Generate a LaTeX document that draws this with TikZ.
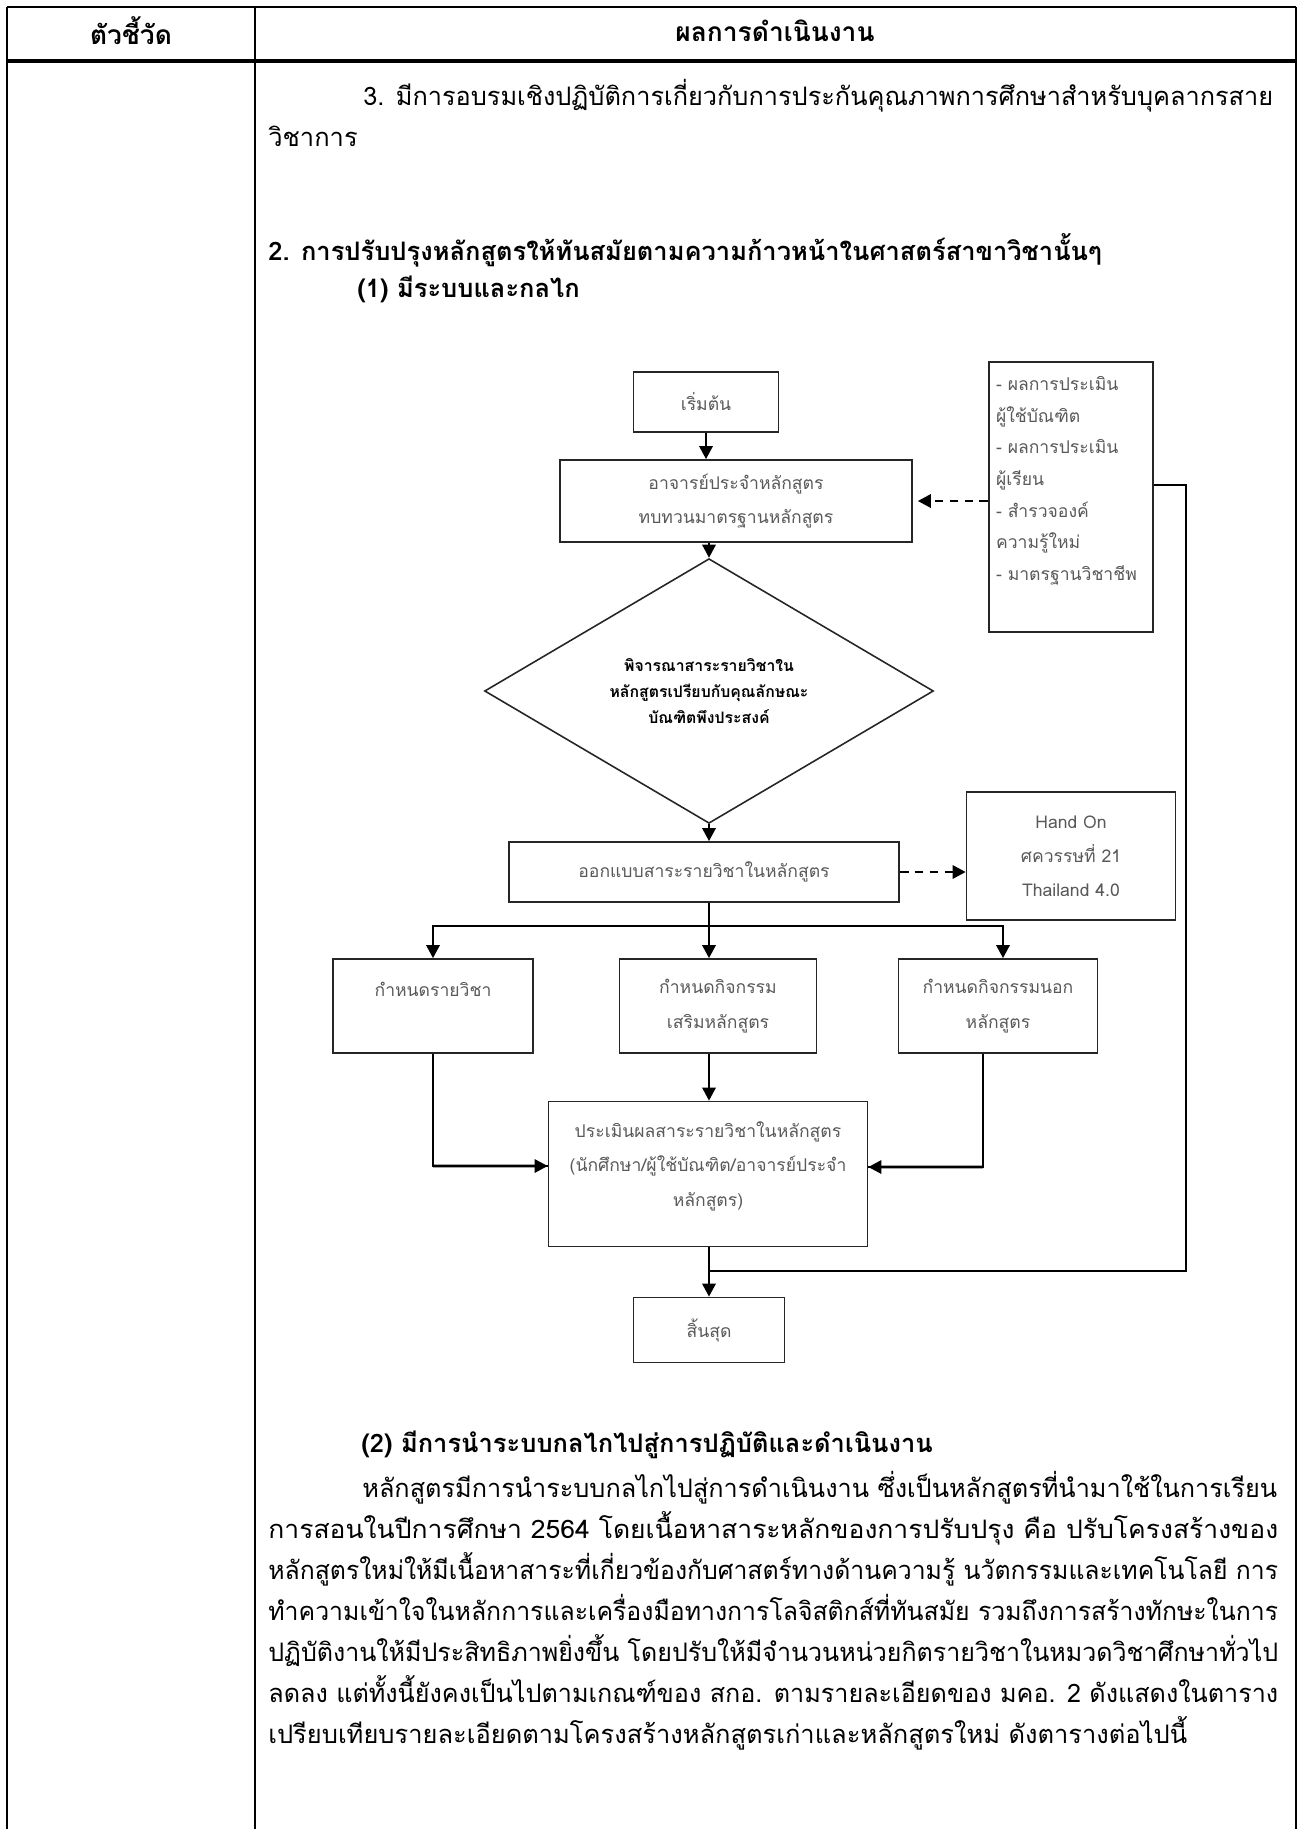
\documentclass[tikz,border=0pt]{standalone}
\usepackage{fontspec}
\setmainfont{Loma}[Script=Thai]
\usepackage{graphicx}
\usepackage{tikz}
\usetikzlibrary{arrows.meta, positioning, shapes.geometric}
\newcommand{\fillline}[2]{\resizebox{#1}{\height}{#2}}
\tikzset{
    tablerule/.style={
        draw=black,
        line width=1.3pt
    },
    headrule/.style={
        draw=black,
        line width=2pt
    },
    bodytext/.style={
        anchor=base west,
        inner sep=0pt,
        text=black,
        font=\fontsize{14.5}{18}\selectfont
    },
    headtext/.style={
        bodytext,
        font=\fontsize{14.5}{18}\selectfont\bfseries
    },
    titletext/.style={
        anchor=center,
        inner sep=0pt,
        font=\fontsize{15}{18}\selectfont\bfseries
    },
    flowbox/.style={
        rectangle,
        draw=black!85,
        line width=0.9pt,
        fill=white,
        align=center,
        inner sep=0pt,
        text=black!65,
        font=\fontsize{10}{19.5}\selectfont
    },
    notebox/.style={
        flowbox,
        align=left,
        font=\fontsize{10}{18}\selectfont
    },
    decision/.style={
        diamond,
        draw=black!85,
        line width=0.9pt,
        align=center,
        inner sep=0pt,
        text=black,
        font=\fontsize{9}{15}\selectfont\bfseries
    },
    wire/.style={
        draw=black,
        line width=1.6pt,
        -{Triangle[length=7.5pt,width=7.5pt]}
    },
    link/.style={
        draw=black,
        line width=1.2pt
    },
    dashwire/.style={
        draw=black,
        line width=1.6pt,
        dash pattern=on 5pt off 3.5pt,
        -{Triangle[length=7.5pt,width=7.5pt]}
    }
}

\begin{document}
\begin{tikzpicture}[x=0.02cm, y=-0.02cm]
\useasboundingbox (0,0) rectangle (1298,1829);

% Table frame
\coordinate (tl) at (7,7);
\coordinate (tr) at (1296,7);
\coordinate (bl) at (7,1829);
\coordinate (br) at (1296,1829);
\coordinate (colsep) at (255,7);
\draw[tablerule] (tl) -- (tr);
\draw[headrule] (7,61) -- (1296,61);
\draw[tablerule] (tl) -- (bl);
\draw[tablerule] (colsep) -- (colsep |- bl);
\draw[tablerule] (tr) -- (br);

\node[titletext] (colA) at (131,31) {ตัวชี้วัด};
\node[titletext] (colB) at (775,31) {ผลการดำเนินงาน};

% Text above the chart
\node[bodytext] (p3a) at (363,105) {\fillline{18.2cm}{3. มีการอบรมเชิงปฏิบัติการเกี่ยวกับการประกันคุณภาพการศึกษาสำหรับบุคลากรสาย}};
\node[bodytext] (p3b) at (268,146) {วิชาการ};
\node[headtext] (sec2) at (268,260) {2. การปรับปรุงหลักสูตรให้ทันสมัยตามความก้าวหน้าในศาสตร์สาขาวิชานั้นๆ};
\node[headtext] (sub1) at (357,297) {(1) มีระบบและกลไก};

% Flowchart
\node[flowbox, minimum width=2.9cm, minimum height=1.2cm] (start) at (706,402) {เริ่มต้น};
\node[flowbox, minimum width=7.04cm, minimum height=1.64cm] (review) at (736,501) {อาจารย์ประจำหลักสูตร\\ทบทวนมาตรฐานหลักสูตร};
\node[notebox, minimum width=3.28cm, minimum height=5.4cm] (inputs) at (1071,497) {\parbox[c][4.82cm][t]{3.0cm}{\raggedright - ผลการประเมิน\\ผู้ใช้บัณฑิต\\- ผลการประเมิน\\ผู้เรียน\\- สำรวจองค์\\ความรู้ใหม่\\- มาตรฐานวิชาชีพ}};
\node[decision, minimum width=8.98cm, minimum height=3.98cm] (decide) at (709,691) {พิจารณาสาระรายวิชาใน\\หลักสูตรเปรียบกับคุณลักษณะ\\บัณฑิตพึงประสงค์};
\node[flowbox, minimum width=7.8cm, minimum height=1.2cm] (design) at (704,872) {ออกแบบสาระรายวิชาในหลักสูตร};
\node[flowbox, minimum width=4.18cm, minimum height=2.56cm] (trends) at (1071,856) {Hand On\\ศควรรษที่ 21\\Thailand 4.0};

\node[flowbox, minimum width=4.0cm, minimum height=1.88cm] (subj) at (433,1006) {กำหนดรายวิชา\\~};
\node[flowbox, minimum width=3.94cm, minimum height=1.88cm] (extra) at (718,1006) {กำหนดกิจกรรม\\เสริมหลักสูตร};
\node[flowbox, minimum width=3.98cm, minimum height=1.88cm] (outer) at (998,1006) {กำหนดกิจกรรมนอก\\หลักสูตร};

\node[flowbox, minimum width=6.38cm, minimum height=2.9cm] (evalbox) at (708,1174) {ประเมินผลสาระรายวิชาในหลักสูตร\\(นักศึกษา/ผู้ใช้บัณฑิต/อาจารย์ประจำ\\หลักสูตร)\\[-8pt]~};
\node[flowbox, minimum width=3.02cm, minimum height=1.3cm] (stop) at (709,1330) {สิ้นสุด};

\coordinate (fork) at (709,926);
\coordinate (loop) at (1186,1271);

\draw[wire] (start) -- (review.north -| start);
\draw[wire] (decide.north |- review.south) -- (decide.north);
\draw[wire] (decide.south) -- (decide.south |- design.north);
\draw[dashwire, shorten >=0.1cm] (inputs.west |- review.east) -- (review.east);
\draw[dashwire] (design.east) -- (design.east -| trends.west);

% Branches
\draw[wire, -] (design.south -| fork) -- (fork);
\draw[wire] (fork) -| (subj.north);
\draw[wire] (fork) -| ([xshift=0.1cm]outer.north);
\draw[wire] (fork) -- (fork |- extra.north);
\draw[wire] (fork |- extra.south) -- (fork |- evalbox.north);
\draw[link] (subj.south) |- ([yshift=0.16cm]evalbox.west);
\draw[wire, shorten >=0pt] (subj.south |- evalbox.west) ++(0,-8) -- ([yshift=0.16cm]evalbox.west);
\draw[link] ([xshift=-0.3cm]outer.south) |- ([yshift=0.14cm]evalbox.east);
\draw[wire] ([xshift=-0.3cm]outer.south |- evalbox.east) ++(0,-7) -- ([yshift=0.14cm]evalbox.east);
\draw[wire] (evalbox.south -| fork) -- (fork |- stop.north);

% Feedback
\draw[link] ([yshift=0.24cm]inputs.east) -| (loop) -- (loop -| fork);

% Text below the chart
\node[headtext] (sub2) at (361,1452) {(2) มีการนำระบบกลไกไปสู่การปฏิบัติและดำเนินงาน};
\node[bodytext] (l1) at (362,1497) {\fillline{18.3cm}{หลักสูตรมีการนำระบบกลไกไปสู่การดำเนินงาน ซึ่งเป็นหลักสูตรที่นำมาใช้ในการเรียน}};
\node[bodytext] (l2) at (268,1538) {\fillline{20.2cm}{การสอนในปีการศึกษา 2564 โดยเนื้อหาสาระหลักของการปรับปรุง คือ ปรับโครงสร้างของ}};
\node[bodytext] (l3) at (268,1579) {\fillline{20.2cm}{หลักสูตรใหม่ให้มีเนื้อหาสาระที่เกี่ยวข้องกับศาสตร์ทางด้านความรู้ นวัตกรรมและเทคโนโลยี การ}};
\node[bodytext] (l4) at (268,1620) {\fillline{20.2cm}{ทำความเข้าใจในหลักการและเครื่องมือทางการโลจิสติกส์ที่ทันสมัย รวมถึงการสร้างทักษะในการ}};
\node[bodytext] (l5) at (268,1661) {\fillline{20.2cm}{ปฏิบัติงานให้มีประสิทธิภาพยิ่งขึ้น โดยปรับให้มีจำนวนหน่วยกิตรายวิชาในหมวดวิชาศึกษาทั่วไป}};
\node[bodytext] (l6) at (268,1702) {\fillline{20.2cm}{ลดลง แต่ทั้งนี้ยังคงเป็นไปตามเกณฑ์ของ สกอ. ตามรายละเอียดของ มคอ. 2 ดังแสดงในตาราง}};
\node[bodytext] (l7) at (268,1743) {เปรียบเทียบรายละเอียดตามโครงสร้างหลักสูตรเก่าและหลักสูตรใหม่ ดังตารางต่อไปนี้};

\end{tikzpicture}
\end{document}
